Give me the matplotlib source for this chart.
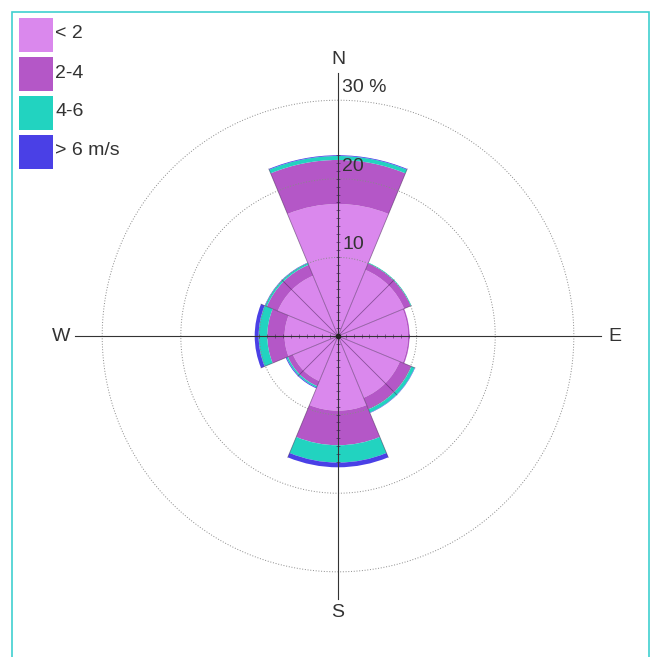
import matplotlib.pyplot as plt
import numpy as np
from matplotlib.patches import Rectangle

plt.rcParams['font.family'] = ['Liberation Sans', 'DejaVu Sans']

# wind rose data (% frequency), 8 sectors of 45 degrees
directions = ['N', 'NE', 'E', 'SE', 'S', 'SW', 'W', 'NW']
angles_deg = [0, 45, 90, 135, 180, 225, 270, 315]
lt2 = [16.8, 9.1, 8.9, 8.5, 9.5, 6.2, 6.8, 8.3]
s2_4 = [5.6, 0.9, 0.2, 1.6, 4.4, 0.7, 2.2, 1.5]
s4_6 = [0.5, 0.1, 0.0, 0.45, 2.2, 0.2, 1.1, 0.25]
gt6 = [0.1, 0.0, 0.0, 0.05, 0.6, 0.1, 0.5, 0.05]
classes = ['< 2', '2-4', '4-6', '> 6 m/s']
colors = ['#da88ed', '#b457c7', '#22d3c0', '#4a40e6']
rings = [10, 20, 30]
ring_labels = ['10', '20', '30 %']

fig = plt.figure(figsize=(6.54, 6.57), dpi=100)
ax = fig.add_axes([0.0601, 0.0339, 0.9135, 0.9093], projection='polar')
ax.set_theta_zero_location('N')
ax.set_theta_direction(-1)
ax.set_ylim(0, 38)
ax.axis('off')

theta = np.radians(angles_deg)
width = np.radians(45)
series = [lt2, s2_4, s4_6, gt6]
bottom = np.zeros(len(theta))
for vals, c in zip(series, colors):
    ax.bar(theta, vals, width=width, bottom=bottom, color=c, edgecolor='none', zorder=2)
    bottom = bottom + np.array(vals)
totals = bottom

# radial lines every 22.5 deg, out to the bar edge
for k in range(16):
    a = k * 22.5
    idx = [i for i, d in enumerate(angles_deg) if abs(((a - d + 180) % 360) - 180) <= 22.5]
    rmax = max(totals[i] for i in idx)
    ax.plot([np.radians(a)] * 2, [0, rmax], color='#3a1a4a', lw=0.6, alpha=0.5, zorder=3)

# dotted rings
tt = np.linspace(0, 2 * np.pi, 500)
for r in rings:
    ax.plot(tt, np.full_like(tt, r), color='#8a8a8a', lw=0.7, ls=(0, (1, 1.8)), zorder=3)

# main axes
for a in [0, 90, 180, 270]:
    ax.plot([np.radians(a)] * 2, [0, 33.5], color='#333333', lw=0.8, zorder=4)

# small ticks along the axes, inside the bars
for a, tot in zip(angles_deg, totals):
    if a % 90:
        continue
    rr = np.arange(1, int(tot) + 1)
    mk = '_' if a in (0, 180) else '|'
    ax.plot(np.full(len(rr), np.radians(a)), rr, ls='none', marker=mk,
            ms=3, mew=0.6, color='#3a1a4a', alpha=0.6, zorder=4)
ax.plot([0], [0], marker='o', ms=3, color='#222222', zorder=5)

for r, lab in zip(rings, ring_labels):
    ax.annotate(lab, xy=(0, r), xytext=(3, 3), textcoords='offset points',
                ha='left', va='bottom', fontsize=14, color='#333333', zorder=6)

for lab, a in zip(['N', 'E', 'S', 'W'], [0, 90, 180, 270]):
    ax.text(np.radians(a), 35.2, lab, ha='center', va='center', fontsize=14, color='#333333')

# legend
for i, (lab, c) in enumerate(zip(classes, colors)):
    y0 = 18 + i * 39
    fig.patches.append(Rectangle((19 / 654, 1 - (y0 + 34) / 657), 34 / 654, 34 / 657,
                                 transform=fig.transFigure, facecolor=c, edgecolor='none'))
    fig.text(55 / 654, 1 - (y0 + 16) / 657, lab, ha='left', va='center',
             fontsize=14, color='#333333')

# frame
fig.patches.append(Rectangle((12 / 654, -0.02), 637 / 654, 1 - 12 / 657 + 0.02,
                             transform=fig.transFigure, fill=False,
                             edgecolor='#40d0d0', lw=1.2))

fig.savefig('out.png', dpi=100)
